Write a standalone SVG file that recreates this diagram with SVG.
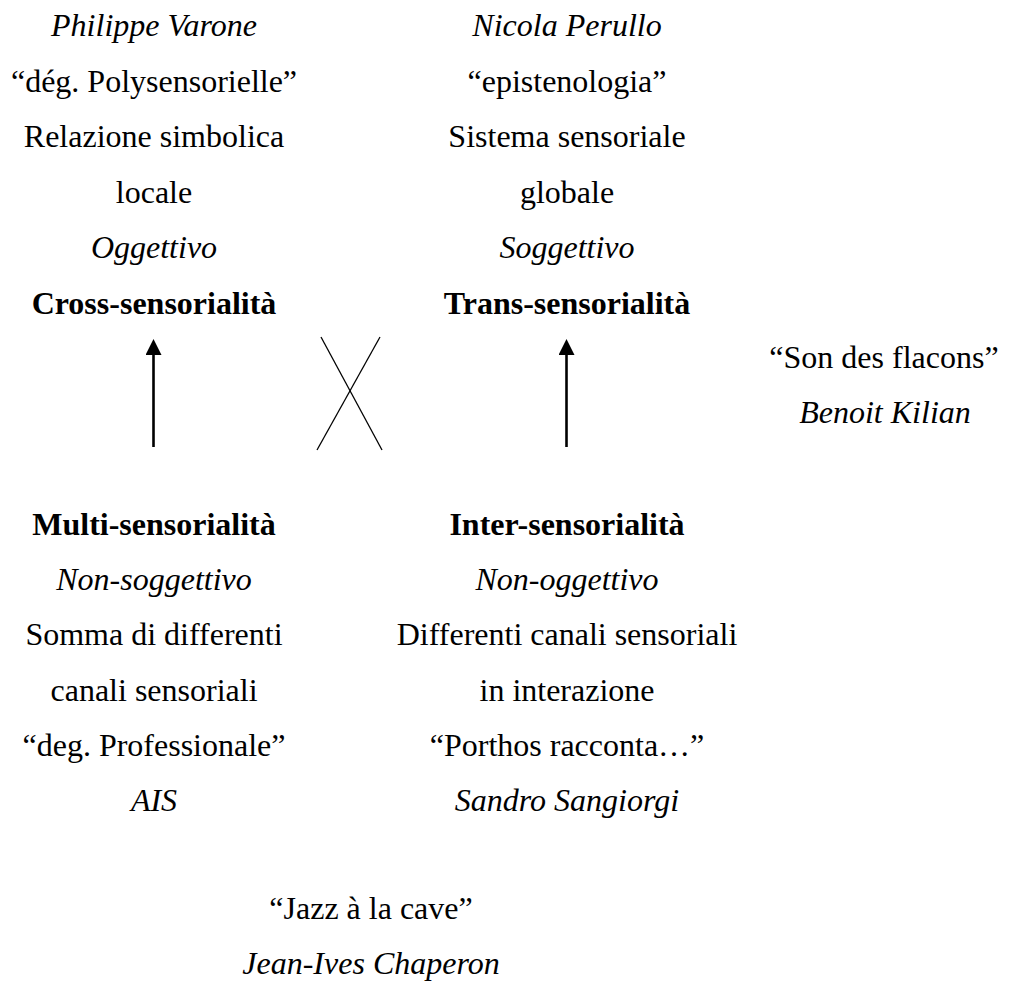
<svg xmlns="http://www.w3.org/2000/svg" width="1009" height="981" viewBox="0 0 1009 981">
  <style>
    text { font-family: "Liberation Serif", "Times New Roman", serif; font-size: 32px; fill: #000; text-anchor: middle; }
    .it { font-style: italic; }
    .bd { font-weight: bold; }
    .arrow { stroke: #000; stroke-width: 2.6; fill: none; }
    .cross { stroke: #000; stroke-width: 1.3; fill: none; }
  </style>
  <defs>
    <marker id="head" markerWidth="16" markerHeight="16" refX="0" refY="8" orient="auto" markerUnits="userSpaceOnUse" viewBox="0 0 16 16">
      <path d="M0,0 L16,8 L0,16 z" fill="#000"/>
    </marker>
  </defs>
  <rect width="1009" height="981" fill="#fff"/>

  <!-- upper left: cross-sensoriality -->
  <g id="cross-sensorialita">
    <text x="154" y="36" class="it">Philippe Varone</text>
    <text x="154" y="92">“dég. Polysensorielle”</text>
    <text x="154" y="147">Relazione simbolica</text>
    <text x="154" y="203">locale</text>
    <text x="154" y="258" class="it">Oggettivo</text>
    <text x="154" y="314" class="bd">Cross-sensorialità</text>
  </g>

  <!-- upper right: trans-sensoriality -->
  <g id="trans-sensorialita">
    <text x="567" y="36" class="it">Nicola Perullo</text>
    <text x="567" y="92">“epistenologia”</text>
    <text x="567" y="147">Sistema sensoriale</text>
    <text x="567" y="203">globale</text>
    <text x="567" y="258" class="it">Soggettivo</text>
    <text x="567" y="314" class="bd">Trans-sensorialità</text>
  </g>

  <!-- side example -->
  <g id="son-des-flacons">
    <text x="884" y="368">“Son des flacons”</text>
    <text x="885" y="423" class="it">Benoit Kilian</text>
  </g>

  <!-- lower left: multi-sensoriality -->
  <g id="multi-sensorialita">
    <text x="154" y="535" class="bd">Multi-sensorialità</text>
    <text x="154" y="590" class="it">Non-soggettivo</text>
    <text x="154" y="645">Somma di differenti</text>
    <text x="154" y="701">canali sensoriali</text>
    <text x="154" y="756">“deg. Professionale”</text>
    <text x="154" y="811" class="it">AIS</text>
  </g>

  <!-- lower right: inter-sensoriality -->
  <g id="inter-sensorialita">
    <text x="567" y="535" class="bd">Inter-sensorialità</text>
    <text x="567" y="590" class="it">Non-oggettivo</text>
    <text x="567" y="645">Differenti canali sensoriali</text>
    <text x="567" y="701">in interazione</text>
    <text x="567" y="756">“Porthos racconta…”</text>
    <text x="567" y="811" class="it">Sandro Sangiorgi</text>
  </g>

  <!-- bottom example -->
  <g id="jazz-a-la-cave">
    <text x="371" y="919">“Jazz à la cave”</text>
    <text x="371" y="974" class="it">Jean-Ives Chaperon</text>
  </g>

  <!-- connectors -->
  <g id="connectors">
    <line class="arrow" x1="153.5" y1="447" x2="153.5" y2="355" marker-end="url(#head)"/>
    <line class="arrow" x1="566.5" y1="447" x2="566.5" y2="355" marker-end="url(#head)"/>
    <line class="cross" x1="321" y1="337" x2="382" y2="450"/>
    <line class="cross" x1="380" y1="337" x2="317" y2="450"/>
  </g>
</svg>
